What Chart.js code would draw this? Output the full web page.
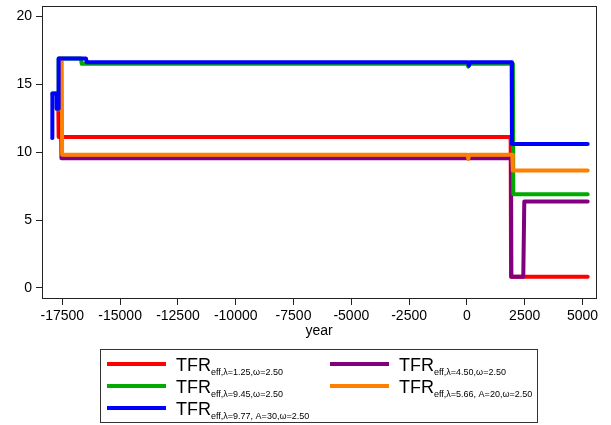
<!DOCTYPE html>
<html>
<head>
<meta charset="utf-8">
<script src="https://cdn.jsdelivr.net/npm/chart.js@4.4.1/dist/chart.umd.min.js"></script>
<style>
  body { margin: 0; background: #fff; }
  #wrap { position: relative; width: 611px; height: 425px; font-family: "Liberation Sans", Arial, sans-serif; }
  #legend { position: absolute; left: 100px; top: 349px; width: 436px; height: 72px; border: 1px solid #333; }
  .item { position: absolute; width: 220px; height: 22px; }
  .swatch { position: absolute; left: 0; top: 9px; width: 59px; height: 4px; }
  .lab { position: absolute; left: 69px; top: 3px; font-size: 18px; line-height: 18px; white-space: nowrap; color: #000; }
  .lab sub { font-size: 9px; vertical-align: -4px; line-height: 9px; }
</style>
</head>
<body>
<div id="wrap">
  <canvas id="chart" width="611" height="425"></canvas>
  <div id="legend"></div>
</div>
<script>
// axis ticks
const xTicks = [-17500, -15000, -12500, -10000, -7500, -5000, -2500, 0, 2500, 5000];
const yTicks = [0, 5, 10, 15, 20];

// series (legend order: red, purple, green, orange, blue)
const redYears   = [-17700, -17673, -17660, 1894, 1910, 5225];
const redValues  = [13.2, 13.2, 11.12, 11.12, 0.83, 0.83];

const purpleYears  = [-17700, -17556, -17540, 1907, 1925, 2439, 2483, 5225];
const purpleValues = [13.2, 13.2, 9.55, 9.55, 0.83, 0.83, 6.36, 6.36];

const greenYears  = [-17932, -17742, -17742, -17673, -17660, -16700, -16661, 20, 60, 100, 1990, 2007, 5225];
const greenValues = [14.31, 14.31, 13.2, 13.2, 16.9, 16.9, 16.5, 16.5, 16.3, 16.5, 16.5, 6.9, 6.9];

const orangeYears  = [-17700, -17630, -17560, -17526, -17510, 20, 60, 100, 1964, 1985, 5225];
const orangeValues = [13.15, 13.15, 16.9, 16.9, 9.8, 9.8, 9.5, 9.8, 9.8, 8.64, 8.64];

const blueYears  = [-17940, -17932, -17745, -17742, -17673, -17660, -16480, -16445, 40, 90, 140, 1938, 1950, 5225];
const blueValues = [11.05, 14.31, 14.31, 13.2, 13.2, 16.9, 16.9, 16.62, 16.62, 16.37, 16.62, 16.62, 10.6, 10.6];

const seriesColors = ['#ff0000', '#800080', '#00aa00', '#ff8000', '#0000ff'];
const seriesSubs = [
  'eff,λ=1.25,ω=2.50',
  'eff,λ=4.50,ω=2.50',
  'eff,λ=9.45,ω=2.50',
  'eff,λ=5.66, A=20,ω=2.50',
  'eff,λ=9.77, A=30,ω=2.50'
];
const seriesYears  = [redYears, purpleYears, greenYears, orangeYears, blueYears];
const seriesValues = [redValues, purpleValues, greenValues, orangeValues, blueValues];

function pts(xs, ys) {
  return xs.map((x, i) => ({ x: x, y: ys[i] }));
}

// first dataset is drawn on top in Chart.js, so reverse (blue on top)
const datasets = seriesColors.map((c, i) => ({
  label: 'TFR' + seriesSubs[i],
  data: pts(seriesYears[i], seriesValues[i]),
  borderColor: c,
  backgroundColor: c,
  borderWidth: 4,
  pointRadius: 0,
  tension: 0,
  fill: false,
  borderJoinStyle: 'round',
  borderCapStyle: 'round'
})).reverse();

const framePlugin = {
  id: 'frame',
  afterDraw(chart) {
    const a = chart.chartArea, ctx = chart.ctx;
    ctx.save();
    ctx.strokeStyle = '#222';
    ctx.lineWidth = 1;
    ctx.strokeRect(a.left + 0.5, a.top + 0.5, a.right - a.left, a.bottom - a.top);
    ctx.restore();
  }
};

Chart.defaults.font.family = '"Liberation Sans", Arial, sans-serif';

new Chart(document.getElementById('chart'), {
  type: 'line',
  data: { datasets: datasets },
  options: {
    responsive: false,
    animation: false,
    devicePixelRatio: 1,
    layout: { padding: { left: 0, right: 15, top: 6, bottom: 85 } },
    plugins: {
      legend: { display: false },
      tooltip: { enabled: false }
    },
    scales: {
      x: {
        type: 'linear',
        min: -18380,
        max: 5585,
        afterBuildTicks: s => { s.ticks = xTicks.map(v => ({ value: v })); },
        afterFit: s => { s.height = 42; s.paddingLeft = 0; s.paddingRight = 0; },
        ticks: {
          font: { size: 14 },
          color: '#000',
          maxRotation: 0,
          autoSkip: false,
          padding: 3,
          callback: v => String(v)
        },
        grid: { drawOnChartArea: false, tickLength: 7, color: '#222' },
        border: { color: '#222' },
        title: { display: true, text: 'year', font: { size: 14 }, color: '#000', padding: 0 }
      },
      y: {
        min: -0.74,
        max: 20.76,
        afterBuildTicks: s => { s.ticks = yTicks.map(v => ({ value: v })); },
        afterFit: s => { s.width = 42; s.paddingTop = 0; s.paddingBottom = 0; },
        ticks: { font: { size: 14 }, color: '#000', padding: 4 },
        grid: { drawOnChartArea: false, tickLength: 6, color: '#222' },
        border: { color: '#222' }
      }
    }
  },
  plugins: [framePlugin]
});

// legend, two columns filled row by row
const legend = document.getElementById('legend');
seriesColors.forEach((c, i) => {
  const item = document.createElement('div');
  item.className = 'item';
  item.style.left = (i % 2 === 0 ? 6 : 229) + 'px';
  item.style.top = (3 + Math.floor(i / 2) * 22) + 'px';
  const sw = document.createElement('div');
  sw.className = 'swatch';
  sw.style.background = c;
  const lab = document.createElement('span');
  lab.className = 'lab';
  lab.innerHTML = 'TFR<sub>' + seriesSubs[i] + '</sub>';
  item.appendChild(sw);
  item.appendChild(lab);
  legend.appendChild(item);
});
</script>
</body>
</html>
